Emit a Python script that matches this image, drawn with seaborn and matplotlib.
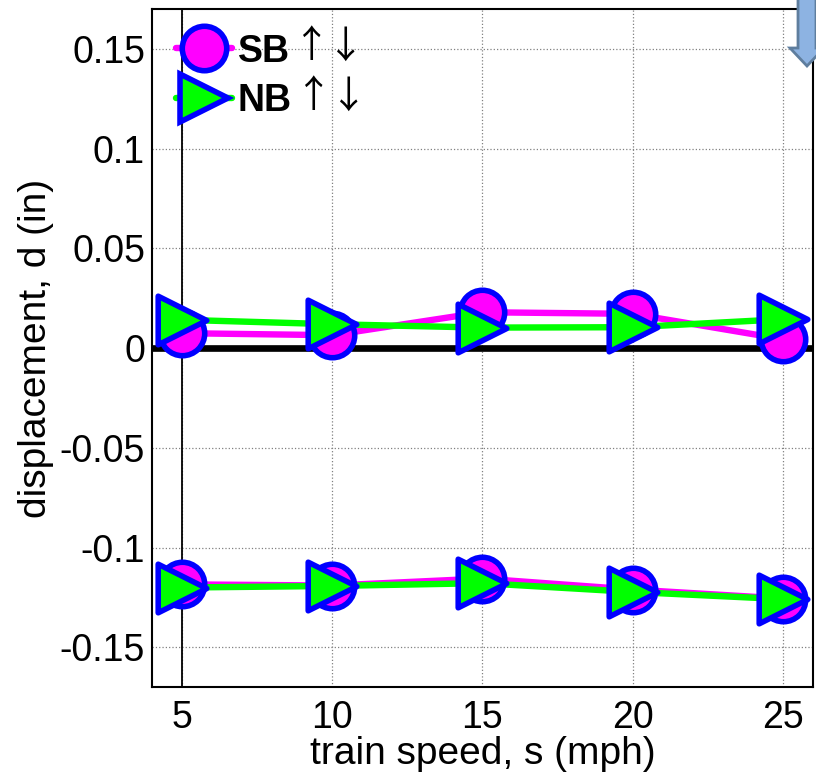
import numpy as np
import pandas as pd
import seaborn as sns
import matplotlib.pyplot as plt
from matplotlib.lines import Line2D
from matplotlib.patches import Polygon

# values
speed = [5, 10, 15, 20, 25]
sb_up = [0.0075, 0.0065, 0.018, 0.0172, 0.0045]
sb_down = [-0.1184, -0.119, -0.1155, -0.121, -0.1255]
nb_up = [0.0142, 0.012, 0.0103, 0.0105, 0.0145]
nb_down = [-0.120, -0.1192, -0.1178, -0.1222, -0.1258]

y_ticks = [-0.15, -0.1, -0.05, 0, 0.05, 0.1, 0.15]
y_tick_labels = ['-0.15', '-0.1', '-0.05', '0', '0.05', '0.1', '0.15']
x_ticks = [5, 10, 15, 20, 25]
legend_names = ['SB', 'NB']

sns.set_style('white')
plt.rcParams['font.family'] = ['Liberation Sans', 'DejaVu Sans']
plt.rcParams['text.color'] = 'black'
plt.rcParams['axes.labelcolor'] = 'black'
plt.rcParams['xtick.color'] = 'black'
plt.rcParams['ytick.color'] = 'black'

PINK = '#FF00FF'
GREEN = '#00FF00'
BLUE = '#0000FF'

fig = plt.figure(figsize=(8.16, 7.79), dpi=100)
W, H = 816, 779
ax = fig.add_axes([152 / W, 1 - 687.3 / H, (812.7 - 152) / W, (687.3 - 9) / H])

# reference lines
ax.axhline(0, color='black', lw=4.8, zorder=1.5)
ax.axvline(5, color='black', lw=1.3, zorder=1.5)

series = [
    (sb_up, PINK, 'o', 32, 3),
    (sb_down, PINK, 'o', 32, 3),
    (nb_up, GREEN, '>', 35, 4),
    (nb_down, GREEN, '>', 35, 4),
]

# lines first
for vals, col, mk, ms, z in series:
    df = pd.DataFrame({'speed': speed, 'd': vals})
    sns.lineplot(data=df, x='speed', y='d', color=col, lw=4.6, ax=ax, zorder=2)

# then markers on top
for vals, col, mk, ms, z in series:
    df = pd.DataFrame({'speed': speed, 'd': vals})
    sns.scatterplot(data=df, x='speed', y='d', marker=mk, s=ms ** 2, color=col,
                    edgecolor=BLUE, linewidth=4, ax=ax, zorder=z, legend=False)

ax.set_xlim(4, 26)
ax.set_ylim(-0.17, 0.17)
ax.set_xticks(x_ticks)
ax.set_xticklabels([str(v) for v in x_ticks])
ax.set_yticks(y_ticks)
ax.set_yticklabels(y_tick_labels)
ax.tick_params(axis='both', labelsize=27, direction='in', length=4, width=1, color='black')
ax.tick_params(axis='x', pad=9)
ax.tick_params(axis='y', pad=5)
ax.grid(True, color='#808080', linestyle=':', lw=0.9)
for sp in ax.spines.values():
    sp.set_color('black')
    sp.set_linewidth(1.5)

ax.set_xlabel('train speed, s (mph)', fontsize=28, labelpad=0)
ax.set_ylabel('displacement, d (in)', fontsize=28, labelpad=4)

# legend
handles = [
    Line2D([], [], color=PINK, lw=4.6, marker='o', ms=32, mfc=PINK, mec=BLUE, mew=4),
    Line2D([], [], color=GREEN, lw=4.6, marker='>', ms=34, mfc=GREEN, mec=BLUE, mew=4),
]
ax.legend(handles, legend_names, loc='upper left',
          bbox_to_anchor=(0.002, 0.997), frameon=False, handlelength=1.5,
          handletextpad=0.15, labelspacing=0.36, borderaxespad=0.2,
          prop={'weight': 'bold', 'size': 27})

# thin up/down arrows after the legend names
for (px, py), s in zip([(312, 47), (346, 47), (314, 97), (349, 97)],
                       ['\u2191', '\u2193', '\u2191', '\u2193']):
    fig.text(px / W, 1 - py / H, s, fontsize=27, family=['Noto Sans CJK SC', 'DejaVu Sans'],
             ha='center', va='center', color='black')

# cut-off arrow shape at the top right corner
pts = [(798, -5), (816, -5), (816, 48), (824, 48), (807, 66), (790, 48), (798, 48)]
arrow = Polygon([(x / W, 1 - y / H) for x, y in pts], closed=True,
                transform=fig.transFigure, facecolor='#8DB3E2', edgecolor='#5F7E9E',
                lw=2, zorder=10)
fig.patches.append(arrow)

fig.savefig('out.png', dpi=100)
